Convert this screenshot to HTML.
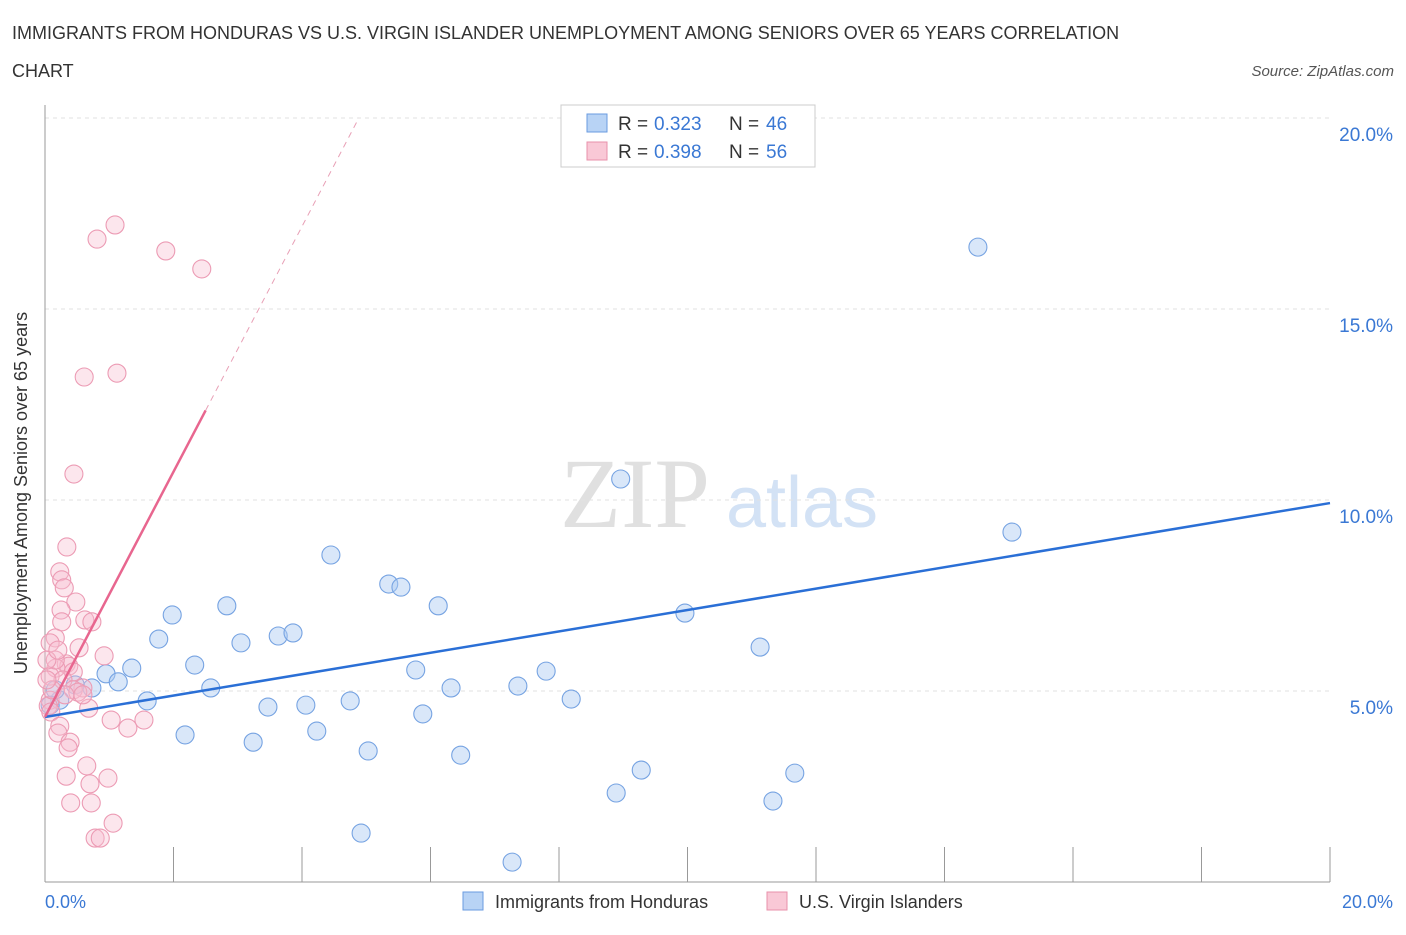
<!DOCTYPE html>
<html><head><meta charset="utf-8"><style>
body{margin:0;background:#fff;font-family:"Liberation Sans",sans-serif}
</style></head><body>
<svg id="c" width="1406" height="930" font-family="Liberation Sans, sans-serif">
<text x="12" y="39" font-size="18" fill="#333">IMMIGRANTS FROM HONDURAS VS U.S. VIRGIN ISLANDER UNEMPLOYMENT AMONG SENIORS OVER 65 YEARS CORRELATION</text>
<text x="12" y="77" font-size="18" fill="#333">CHART</text>
<text x="1394" y="76" font-size="15" fill="#555" text-anchor="end" font-style="italic">Source: ZipAtlas.com</text>
<text x="635" y="527" font-size="100" fill="#e0e0e0" text-anchor="middle" style="font-family:'Liberation Serif',serif">ZIP</text>
<text x="802" y="527" font-size="72" fill="#d3e2f5" text-anchor="middle">atlas</text>
<g id="grid"></g><g id="marks"></g>
<text x="27" y="493" font-size="18" fill="#333" text-anchor="middle" transform="rotate(-90 27 493)">Unemployment Among Seniors over 65 years</text>
<text x="45" y="908" font-size="18" fill="#3a78d4">0.0%</text>
<text x="1393" y="908" font-size="18" fill="#3a78d4" text-anchor="end">20.0%</text>
<g>
<rect x="561" y="105" width="254" height="62" fill="#fff" stroke="#ccc"/>
<rect x="587" y="114" width="20" height="18" fill="#b8d3f5" stroke="#6a9be0"/>
<text x="618" y="130" font-size="19" fill="#333">R =</text><text x="654" y="130" font-size="19" fill="#3a78d4">0.323</text>
<text x="729" y="130" font-size="19" fill="#333">N =</text><text x="766" y="130" font-size="19" fill="#3a78d4">46</text>
<rect x="587" y="142" width="20" height="18" fill="#f9c8d6" stroke="#e891ab"/>
<text x="618" y="158" font-size="19" fill="#333">R =</text><text x="654" y="158" font-size="19" fill="#3a78d4">0.398</text>
<text x="729" y="158" font-size="19" fill="#333">N =</text><text x="766" y="158" font-size="19" fill="#3a78d4">56</text>
</g>
<g>
<rect x="463" y="892" width="20" height="18" fill="#b8d3f5" stroke="#6a9be0"/>
<text x="495" y="908" font-size="18" fill="#333">Immigrants from Honduras</text>
<rect x="767" y="892" width="20" height="18" fill="#f9c8d6" stroke="#e891ab"/>
<text x="799" y="908" font-size="18" fill="#333">U.S. Virgin Islanders</text>
</g>
</svg>
<script>
const blueX=[14.52,15.05,8.96,4.45,5.35,5.54,6.12,2.83,1.98,1.77,3.05,3.63,3.86,9.96,11.13,2.33,1.35,0.95,1.14,0.73,2.58,5.77,7.80,6.32,7.36,8.19,1.59,4.75,3.47,4.06,5.88,4.23,2.18,3.24,5.03,6.47,9.28,11.67,8.89,11.33,4.92,7.27,0.23,0.16,0.47,0.08];
const blueY=[16.62,9.16,10.55,8.56,7.80,7.72,7.23,7.23,6.99,6.36,6.26,6.44,6.52,7.04,6.15,5.68,5.60,5.45,5.24,5.08,5.08,5.55,5.52,5.08,5.13,4.79,4.74,4.74,4.58,4.63,4.40,3.95,3.85,3.66,3.43,3.32,2.93,2.85,2.33,2.12,1.28,0.52,4.76,5.03,5.16,4.63];
const pinkX=[1.09,0.81,1.88,2.44,0.61,1.12,0.45,0.34,0.23,0.26,0.30,0.48,0.25,0.62,0.73,0.26,0.16,0.08,0.53,0.92,0.33,0.37,0.17,0.44,0.08,0.28,0.59,0.44,0.68,0.08,0.05,0.09,0.23,0.20,1.03,1.29,1.54,0.39,0.36,0.65,0.33,0.98,0.70,0.40,0.72,1.06,0.78,0.86,0.11,0.03,0.51,0.31,0.16,0.03,0.20,0.59];
const pinkY=[17.20,16.83,16.52,16.05,13.22,13.32,10.68,8.77,8.12,7.91,7.70,7.33,7.12,6.86,6.81,6.81,6.39,6.26,6.13,5.92,5.71,5.65,5.60,5.50,5.39,5.29,5.08,5.03,4.55,4.76,4.61,4.45,4.08,3.90,4.24,4.03,4.24,3.66,3.51,3.04,2.77,2.72,2.57,2.07,2.07,1.54,1.15,1.15,5.03,5.29,4.97,4.90,5.81,5.81,6.07,4.90];
const yTicks=[5,10,15,20];
const yTickLabels=["5.0%","10.0%","15.0%","20.0%"];
const xTicks=[0,2,4,6,8,10,12,14,16,18,20];
const blueTrend=[4.32,9.92];
const pinkTrend=[4.32,3.21];
const sx=v=>45+v*64.25, sy=v=>882-v*38.2;
const NS="http://www.w3.org/2000/svg";
function mk(t,a,p){const e=document.createElementNS(NS,t);for(const k in a)e.setAttribute(k,a[k]);p.appendChild(e);return e;}
const g=document.getElementById('grid'),m=document.getElementById('marks');
yTicks.forEach((v,i)=>{
 const l=mk('line',{x1:45,x2:1330,y1:sy(v),y2:sy(v),stroke:'#e2e2e2','stroke-dasharray':'4,4'},g);
 
 
 const t=mk('text',{x:1393,y:sy(v)+23,'font-size':19,fill:'#3a78d4','text-anchor':'end'},g);
 t.textContent=yTickLabels[i];
 
 
});
const ax=mk('line',{x1:45,x2:45,y1:105,y2:882,stroke:'#999'},g);


const bx=mk('line',{x1:45,x2:1330,y1:882,y2:882,stroke:'#999'},g);


xTicks.forEach(v=>{
 const t=mk('line',{x1:sx(v),x2:sx(v),y1:847,y2:882,stroke:'#999'},g);
 
 
});
blueX.forEach((x,i)=>{
 const c=mk('circle',{cx:sx(x),cy:sy(blueY[i]),r:9,fill:'rgba(170,202,242,0.45)',stroke:'#76a3e2','stroke-width':1.1},m);
 
 
});
pinkX.forEach((x,i)=>{
 const c=mk('circle',{cx:sx(x),cy:sy(pinkY[i]),r:9,fill:'rgba(248,190,208,0.38)',stroke:'#ec9bb4','stroke-width':1.1},m);
 
 
});
const bl=mk('line',{x1:sx(0),y1:sy(blueTrend[0]),x2:sx(20),y2:sy(blueTrend[1]),stroke:'#2a6fd6','stroke-width':2.5},m);


const pe=2.5, pd=(20-pinkTrend[0])/pinkTrend[1];
const pl=mk('line',{x1:sx(0),y1:sy(pinkTrend[0]),x2:sx(pe),y2:sy(pinkTrend[0]+pinkTrend[1]*pe),stroke:'#e8668f','stroke-width':2.5},m);


const pdl=mk('line',{x1:sx(pe),y1:sy(pinkTrend[0]+pinkTrend[1]*pe),x2:sx(pd),y2:sy(20),stroke:'#e8a0b6','stroke-width':1,'stroke-dasharray':'6,5'},m);


</script>
</body></html>
